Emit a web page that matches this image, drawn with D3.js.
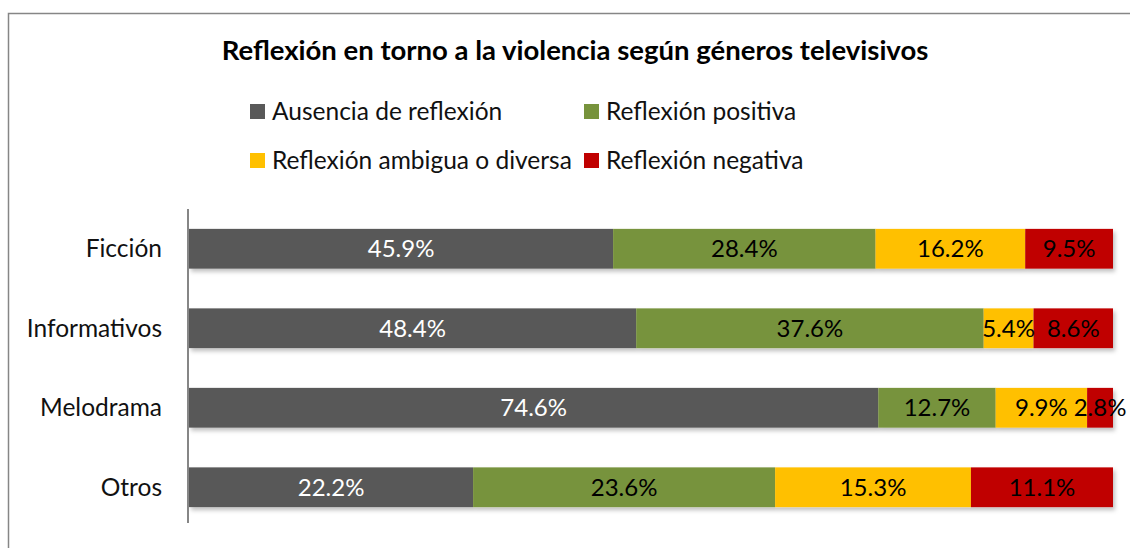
<!DOCTYPE html>
<html>
<head>
<meta charset="utf-8">
<script src="https://cdn.jsdelivr.net/npm/d3@7"></script>
<style>
  body { margin: 0; background: #fff; }
  svg text { font-family: Lato, "Open Sans", sans-serif; }
</style>
</head>
<body>
<script>
// data
var categories = ["Ficción", "Informativos", "Melodrama", "Otros"];
var seriesNames = ["Ausencia de reflexión", "Reflexión positiva", "Reflexión ambigua o diversa", "Reflexión negativa"];
var ausencia = [45.9, 48.4, 74.6, 22.2];
var positiva = [28.4, 37.6, 12.7, 23.6];
var ambigua  = [16.2, 5.4, 9.9, 15.3];
var negativa = [9.5, 8.6, 2.8, 11.1];
var colors = ["#595959", "#77933C", "#FFC000", "#C00000"];
var labelColors = ["#fff", "#000", "#000", "#000"];

var w = 1130, h = 548;

var svg = d3.select("body").append("svg")
    .attr("width", w)
    .attr("height", h);

// soft shadow like the office chart
var defs = svg.append("defs");
var f = defs.append("filter").attr("id", "shadow")
    .attr("x", "-5%").attr("y", "-20%").attr("width", "110%").attr("height", "160%");
f.append("feDropShadow").attr("dx", 2).attr("dy", 3).attr("stdDeviation", 2)
    .attr("flood-color", "#000").attr("flood-opacity", 0.25);

// frame
svg.append("rect")
    .attr("x", 8.5).attr("y", 13.5)
    .attr("width", 1140).attr("height", 560)
    .attr("fill", "none")
    .attr("stroke", "#868686")
    .attr("stroke-width", 1.5);

// title
svg.append("text")
    .attr("x", 575).attr("y", 60)
    .attr("text-anchor", "middle")
    .attr("font-size", "27.5px")
    .attr("font-weight", "bold")
    .text("Reflexión en torno a la violencia según géneros televisivos");

// legend
var legendPos = [[250, 111.5], [584, 111.5], [250, 160.5], [584, 160.5]];
var legend = svg.selectAll("g.legend")
    .data(seriesNames)
    .enter().append("g")
    .attr("class", "legend")
    .attr("transform", function(d, i) { return "translate(" + legendPos[i][0] + "," + legendPos[i][1] + ")"; });
legend.append("rect")
    .attr("x", 0).attr("y", -7.5)
    .attr("width", 15).attr("height", 15)
    .attr("fill", function(d, i) { return colors[i]; });
legend.append("text")
    .attr("x", 22).attr("y", 8.5)
    .attr("font-size", "24.5px")
    .attr("fill", "#111")
    .text(function(d) { return d; });

// stacked (100%) data
var rows = categories.map(function(c, i) {
    var vals = [ausencia[i], positiva[i], ambigua[i], negativa[i]];
    var total = d3.sum(vals);
    var x0 = 0;
    return { cat: c, segs: vals.map(function(v, k) {
        var s = { k: k, v: v, x0: x0 / total, x1: (x0 + v) / total };
        x0 += v;
        return s;
    }) };
});

var x = d3.scaleLinear().domain([0, 1]).range([189, 1113]);
var y = d3.scaleBand().domain(categories).range([209, 527]).paddingInner(0.5).paddingOuter(0.25);

var g = svg.selectAll("g.row")
    .data(rows)
    .enter().append("g")
    .attr("class", "row")
    .attr("filter", "url(#shadow)");

g.selectAll("rect")
    .data(function(d) { return d.segs.map(function(s) { s.cat = d.cat; return s; }); })
    .enter().append("rect")
    .attr("x", function(d) { return x(d.x0); })
    .attr("y", function(d) { return y(d.cat); })
    .attr("width", function(d) { return x(d.x1) - x(d.x0); })
    .attr("height", y.bandwidth())
    .attr("fill", function(d) { return colors[d.k]; });

// data labels
rows.forEach(function(r) {
    svg.selectAll(null)
        .data(r.segs)
        .enter().append("text")
        .attr("x", function(d) { return (x(d.x0) + x(d.x1)) / 2; })
        .attr("y", y(r.cat) + y.bandwidth() / 2 + 8.5)
        .attr("text-anchor", "middle")
        .attr("font-size", "24px")
        .attr("fill", function(d) { return labelColors[d.k]; })
        .text(function(d) { return d.v.toFixed(1) + "%"; });
});

// category labels
svg.selectAll("text.cat")
    .data(categories)
    .enter().append("text")
    .attr("class", "cat")
    .attr("x", 162)
    .attr("y", function(d) { return y(d) + y.bandwidth() / 2 + 8.5; })
    .attr("text-anchor", "end")
    .attr("font-size", "24.5px")
    .attr("fill", "#111")
    .text(function(d) { return d; });

// vertical axis line
svg.append("line")
    .attr("x1", 188).attr("x2", 188)
    .attr("y1", 209).attr("y2", 523)
    .attr("stroke", "#868686")
    .attr("stroke-width", 2);
</script>
</body>
</html>
